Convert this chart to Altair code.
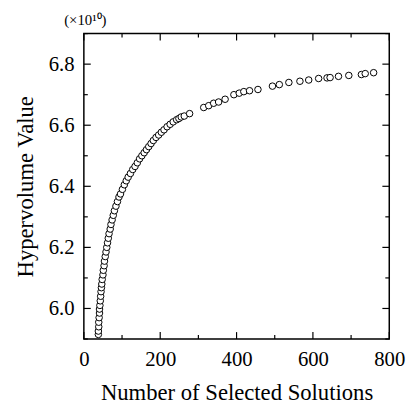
import altair as alt
import pandas as pd

# Data
solutions = [
    38, 38, 39, 39, 40, 41, 41, 42, 43, 44, 45, 46, 47, 48, 50, 51, 53, 54, 56, 58,
    60, 62, 64, 66, 69, 71, 74, 77, 80, 84, 88, 92, 96, 101, 106, 111, 116, 122, 128,
    134, 140, 146, 152, 158, 164, 170, 176, 182, 189, 196, 203, 210, 218, 226, 234, 243,
    249, 255, 263, 277,
    314, 327, 340, 353, 370, 393, 407, 419, 434, 456, 494, 512, 537, 566, 589, 615,
    637, 645, 667, 694, 727, 737, 759,
]
hypervolume = [
    5.915, 5.926, 5.94, 5.955, 5.97, 5.985, 5.998, 6.01, 6.025, 6.04, 6.055, 6.068, 6.08,
    6.095, 6.11, 6.125, 6.14, 6.155, 6.17, 6.185,
    6.2, 6.215, 6.23, 6.245, 6.26, 6.275, 6.29, 6.305, 6.32, 6.335, 6.35, 6.365, 6.375,
    6.39, 6.405, 6.418, 6.43, 6.442, 6.455,
    6.465, 6.477, 6.49, 6.5, 6.51, 6.52, 6.53, 6.54, 6.55, 6.56, 6.568, 6.577, 6.585,
    6.595, 6.603, 6.611, 6.618,
    6.622, 6.627, 6.63, 6.638,
    6.658, 6.664, 6.672, 6.676, 6.685, 6.7, 6.705, 6.71, 6.713, 6.717, 6.728, 6.733,
    6.74, 6.744, 6.748, 6.753, 6.755, 6.756, 6.76, 6.763, 6.766, 6.769, 6.772,
]

x_major = [0, 200, 400, 600, 800]
x_minor = [100, 300, 500, 700]
y_major = [6.0, 6.2, 6.4, 6.6, 6.8]
y_minor = [5.9, 6.1, 6.3, 6.5, 6.7, 6.9]

df = pd.DataFrame({"n": solutions, "hv": hypervolume})

W, H = 310, 310
FONT = "Times New Roman, Liberation Serif, serif"
xs = alt.Scale(domain=[0, 800], nice=False, zero=False)
ys = alt.Scale(domain=[5.9, 6.9], nice=False, zero=False)

points = alt.Chart(df).mark_point(
    shape="circle", filled=True, fill="white", stroke="black",
    strokeWidth=1, size=44, opacity=1,
).encode(
    x=alt.X("n:Q", scale=xs, axis=alt.Axis(
        orient="bottom", values=x_major, ticks=False, domain=False, grid=False,
        title="Number of Selected  Solutions", labelFont=FONT, labelFontSize=21,
        labelColor="black", labelPadding=10, titleFont=FONT, titleFontSize=23,
        titleFontWeight="normal", titleColor="black", titlePadding=12,
        labelFlush=False, labelOverlap=False)),
    y=alt.Y("hv:Q", scale=ys, axis=alt.Axis(
        orient="left", values=y_major, format=".1f", ticks=False, domain=False,
        grid=False, title="Hypervolume Value", labelFont=FONT, labelFontSize=21,
        labelColor="black", labelPadding=10, titleFont=FONT, titleFontSize=23,
        titleFontWeight="normal", titleColor="black", titlePadding=11,
        labelFlush=False, labelOverlap=False)),
)


def xticks(vals, y0, y1):
    return alt.Chart(pd.DataFrame({"v": vals})).mark_rule(
        color="black", strokeWidth=1.2
    ).encode(x=alt.X("v:Q", scale=xs), y=alt.value(y0), y2=alt.value(y1))


def yticks(vals, x0, x1):
    return alt.Chart(pd.DataFrame({"v": vals})).mark_rule(
        color="black", strokeWidth=1.2
    ).encode(y=alt.Y("v:Q", scale=ys), x=alt.value(x0), x2=alt.value(x1))


MAJ, MIN = 7, 4
layers = [
    points,
    xticks(x_major, H, H - MAJ), xticks(x_minor, H, H - MIN),
    xticks(x_major, 0, MAJ), xticks(x_minor, 0, MIN),
    yticks(y_major, 0, MAJ), yticks(y_minor, 0, MIN),
    yticks(y_major, W, W - MAJ), yticks(y_minor, W, W - MIN),
]

chart = alt.layer(*layers).properties(
    width=W, height=H,
    autosize=alt.AutoSizeParams(type="none"),
    padding={"left": 77, "top": 23, "right": 18, "bottom": 64},
    title=alt.TitleParams("(×10¹⁰)", anchor="start", frame="group", fontSize=15,
                          font=FONT, fontWeight="normal", color="black", dx=-20,
                          offset=5),
).configure_view(stroke="black", strokeWidth=1.5)

chart.save("out.html", embed_options={"renderer": "svg", "actions": False})
